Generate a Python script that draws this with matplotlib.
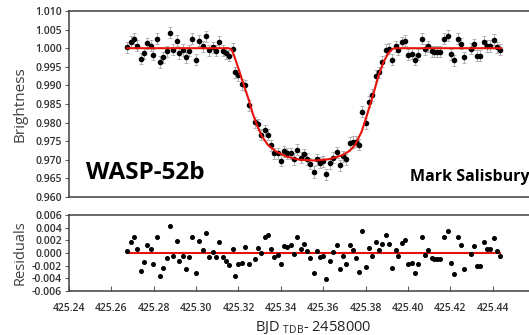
import matplotlib
matplotlib.use("Agg")
import matplotlib.pyplot as plt
from matplotlib.ticker import FormatStrFormatter

plt.rcParams["font.family"] = ["Open Sans", "DejaVu Sans"]
plt.rcParams["mathtext.fontset"] = "custom"
plt.rcParams["mathtext.rm"] = "Open Sans"

# observation times (BJD_TDB - 2458000)
times = [
    425.2675, 425.2691, 425.2707, 425.2722, 425.2738, 425.2754, 425.2770, 425.2785, 425.2798, 425.2814,
    425.2829, 425.2845, 425.2861, 425.2876, 425.2892, 425.2908, 425.2920, 425.2936, 425.2952, 425.2968,
    425.2983, 425.2999, 425.3015, 425.3031, 425.3046, 425.3062, 425.3078, 425.3093, 425.3109, 425.3125,
    425.3141, 425.3156, 425.3172, 425.3185, 425.3200, 425.3216, 425.3232, 425.3248, 425.3276, 425.3292,
    425.3307, 425.3323, 425.3339, 425.3354, 425.3370, 425.3386, 425.3402, 425.3414, 425.3430, 425.3446,
    425.3461, 425.3477, 425.3493, 425.3508, 425.3524, 425.3540, 425.3556, 425.3571, 425.3587, 425.3600,
    425.3615, 425.3631, 425.3647, 425.3663, 425.3678, 425.3694, 425.3710, 425.3725, 425.3741, 425.3757,
    425.3770, 425.3785, 425.3801, 425.3817, 425.3832, 425.3848, 425.3864, 425.3880, 425.3895, 425.3911,
    425.3924, 425.3942, 425.3955, 425.3971, 425.3986, 425.4002, 425.4018, 425.4034, 425.4049, 425.4065,
    425.4081, 425.4096, 425.4112, 425.4125, 425.4137, 425.4153, 425.4172, 425.4188, 425.4204, 425.4219,
    425.4235, 425.4251, 425.4263, 425.4298, 425.4310, 425.4326, 425.4342, 425.4357, 425.4373, 425.4389,
    425.4405, 425.4420, 425.4433,
]

flux = [
    1.0003, 1.0017, 1.0025, 1.0007, 0.9972, 0.9986, 1.0013, 1.0007, 0.9982, 1.0025,
    0.9963, 0.9976, 0.9992, 1.0042, 0.9996, 1.0020, 0.9987, 0.9995, 0.9975, 0.9993,
    1.0025, 0.9969, 1.0020, 1.0005, 1.0032, 0.9994, 1.0002, 0.9993, 1.0017, 0.9993,
    0.9987, 0.9980, 0.9998, 0.9935, 0.9927, 0.9903, 0.9900, 0.9846, 0.9801, 0.9796,
    0.9768, 0.9779, 0.9768, 0.9739, 0.9718, 0.9717, 0.9698, 0.9723, 0.9718, 0.9718,
    0.9702, 0.9727, 0.9706, 0.9715, 0.9702, 0.9690, 0.9667, 0.9701, 0.9692, 0.9696,
    0.9661, 0.9691, 0.9706, 0.9720, 0.9685, 0.9710, 0.9701, 0.9745, 0.9748, 0.9749,
    0.9740, 0.9829, 0.9798, 0.9856, 0.9874, 0.9926, 0.9935, 0.9964, 0.9996, 0.9999,
    0.9969, 1.0005, 0.9996, 1.0016, 1.0020, 0.9982, 0.9985, 0.9969, 0.9982, 1.0025,
    0.9997, 1.0005, 0.9992, 0.9991, 0.9991, 0.9991, 1.0025, 1.0034, 0.9984, 0.9967,
    1.0025, 1.0012, 0.9975, 0.9999, 1.0011, 0.9980, 0.9980, 1.0017, 1.0006, 1.0006,
    1.0023, 1.0003, 0.9996,
]
flux_err = 0.0015

residuals = [
    0.0003, 0.0017, 0.0025, 0.0007, -0.0028, -0.0014, 0.0013, 0.0007, -0.0018, 0.0025,
    -0.0037, -0.0024, -0.0008, 0.0042, -0.0004, 0.0019, -0.0013, -0.0005, -0.0025, -0.0007,
    0.0025, -0.0031, 0.0019, 0.0005, 0.0032, -0.0006, 0.0002, -0.0007, 0.0017, -0.0007,
    -0.0013, -0.0019, 0.0007, -0.0036, -0.0017, -0.0015, 0.0009, -0.0018, -0.0010, 0.0008,
    0.0000, 0.0025, 0.0028, 0.0006, -0.0007, -0.0003, -0.0017, 0.0011, 0.0009, 0.0012,
    -0.0002, 0.0025, 0.0006, 0.0015, 0.0003, -0.0008, -0.0031, 0.0003, -0.0007, -0.0004,
    -0.0041, -0.0012, 0.0001, 0.0012, -0.0025, -0.0004, -0.0018, 0.0012, 0.0005, -0.0008,
    -0.0030, 0.0034, -0.0022, 0.0008, -0.0004, 0.0018, 0.0004, 0.0014, 0.0028, 0.0014,
    -0.0024, 0.0005, -0.0004, 0.0016, 0.0020, -0.0018, -0.0015, -0.0031, -0.0018, 0.0025,
    -0.0003, 0.0005, -0.0008, -0.0009, -0.0009, -0.0009, 0.0025, 0.0034, -0.0016, -0.0033,
    0.0025, 0.0012, -0.0025, -0.0001, 0.0011, -0.0021, -0.0021, 0.0017, 0.0006, 0.0006,
    0.0023, 0.0003, -0.0004,
]

# fitted transit model
model_t = [
    425.2675, 425.3155, 425.3169, 425.3183, 425.3202, 425.3225, 425.3249, 425.3268, 425.3287, 425.3310,
    425.3339, 425.3376, 425.3424, 425.3490, 425.3565, 425.3631, 425.3688, 425.3725, 425.3751, 425.3767,
    425.3781, 425.3804, 425.3837, 425.3861, 425.3885, 425.3908, 425.3927, 425.3941, 425.4441,
]
model_f = [
    1.0000, 1.0000, 0.9995, 0.9974, 0.9942, 0.9901, 0.9861, 0.9823, 0.9794, 0.9764,
    0.9740, 0.9723, 0.9709, 0.9700, 0.9698, 0.9702, 0.9712, 0.9724, 0.9740, 0.9759,
    0.9775, 0.9815, 0.9877, 0.9926, 0.9963, 0.9987, 0.9998, 1.0000, 1.0000,
]

flux_ticks = [0.960, 0.965, 0.970, 0.975, 0.980, 0.985, 0.990, 0.995, 1.000, 1.005, 1.010]
resid_ticks = [-0.006, -0.004, -0.002, 0.000, 0.002, 0.004, 0.006]
time_ticks = [425.24, 425.26, 425.28, 425.30, 425.32, 425.34, 425.36, 425.38, 425.40, 425.42, 425.44]

W, H = 529, 335
fig = plt.figure(figsize=(W / 100, H / 100), dpi=100)
left, right = 69, 535
ax = fig.add_axes([left / W, 1 - 197 / H, (right - left) / W, (197 - 11) / H])
axr = fig.add_axes([left / W, 1 - 291 / H, (right - left) / W, (291 - 215) / H])

tick_color = "#303030"
for a in (ax, axr):
    for s in a.spines.values():
        s.set_color("#404040")
        s.set_linewidth(1.1)
    a.set_xlim(425.24, 425.46)
    a.set_xticks(time_ticks)
    a.tick_params(axis="y", direction="out", length=3, width=0.8, colors="#606060",
                  labelcolor=tick_color, labelsize=7.5, pad=2)
    a.tick_params(axis="x", direction="in", length=3.5, width=0.8, colors="#606060",
                  labelcolor=tick_color, labelsize=7.5, pad=8.5)

ax.errorbar(times, flux, yerr=flux_err, fmt="o", ms=3.0, color="black",
            ecolor="#a8a8a8", elinewidth=0.6, capsize=1.3, capthick=0.6, zorder=2)
ax.plot(model_t, model_f, color="#e8120c", lw=1.5, zorder=3)
ax.set_ylim(0.960, 1.010)
ax.set_yticks(flux_ticks)
ax.yaxis.set_major_formatter(FormatStrFormatter("%.3f"))
ax.tick_params(axis="x", labelbottom=False, length=0)

axr.plot([times[0], times[-1]], [0, 0], color="#e8120c", lw=1.5, zorder=1)
axr.plot(times, residuals, "o", ms=2.6, color="black", zorder=2)
axr.set_ylim(-0.006, 0.006)
axr.set_yticks(resid_ticks)
axr.yaxis.set_major_formatter(FormatStrFormatter("%.3f"))
axr.xaxis.set_major_formatter(FormatStrFormatter("%.2f"))
for lab in ax.get_yticklabels() + axr.get_xticklabels() + axr.get_yticklabels():
    lab.set_fontweight("semibold")

fig.text(20 / W, 1 - 104 / H, "Brightness", rotation=90, ha="center", va="center",
         fontsize=11, color="#404040")
fig.text(20 / W, 1 - 253 / H, "Residuals", rotation=90, ha="center", va="center",
         fontsize=10.5, color="#404040")
fig.text(313 / W, 1 - 328 / H, r"BJD $_{\mathrm{TDB}}$- 2458000", ha="center", va="center",
         fontsize=10.5, color="#222222")
fig.text(86 / W, 1 - 173 / H, "WASP-52b", ha="left", va="center", fontsize=17.5,
         fontweight="bold", color="black")
fig.text(410 / W, 1 - 177 / H, "Mark Salisbury", ha="left", va="center", fontsize=11.5,
         fontweight="bold", color="black")

fig.savefig("out.png", dpi=100)
